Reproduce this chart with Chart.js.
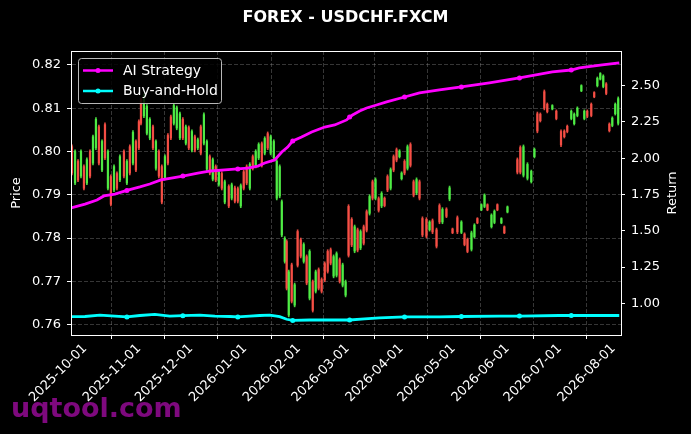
<!DOCTYPE html>
<html>
<head>
<meta charset="utf-8">
<script src="https://cdn.jsdelivr.net/npm/chart.js@4.4.1/dist/chart.umd.min.js"></script>
<style>
  html, body { margin: 0; padding: 0; background: #000; }
  canvas { display: block; }
</style>
</head>
<body>
<canvas id="c" width="691" height="434"></canvas>
<script>
// ---------- DATA ----------
// x values are days since 2025-10-01
const monthDays   = [0, 31, 61, 92, 123, 151, 182, 212, 243, 273, 304];
const monthLabels = ['2025-10-01','2025-11-01','2025-12-01','2026-01-01','2026-02-01','2026-03-01',
                     '2026-04-01','2026-05-01','2026-06-01','2026-07-01','2026-08-01'];
const priceTicks  = [0.76, 0.77, 0.78, 0.79, 0.80, 0.81, 0.82];
const returnTicks = [1.00, 1.25, 1.50, 1.75, 2.00, 2.25, 2.50];

const candleDays = [-7.5,-5.7,-4.0,-2.3,-0.6,1.1,2.9,4.6,6.3,8.0,9.8,11.5,13.2,14.9,16.7,18.4,20.1,22.4,24.1,25.8,
  27.6,29.3,31.0,32.2,33.9,35.6,37.3,39.1,40.8,42.5,44.2,46.0,47.7,49.4,51.1,52.8,54.6,56.3,58.0,59.7,
  61.5,63.2,64.9,66.6,68.4,70.1,71.8,73.5,75.2,77.0,78.7,80.4,82.7,84.4,86.2,87.9,89.6,91.3,93.0,94.8,
  96.5,98.2,99.9,101.7,103.4,105.1,106.8,108.6,110.3,112.0,113.2,114.9,116.0,117.2,118.9,120.6,122.3,124.1,125.8,127.5,
  129.2,131.0,132.7,134.4,136.1,137.9,139.6,141.3,143.0,144.7,146.5,148.2,149.9,151.6,153.4,155.1,156.8,158.5,160.3,162.0,
  163.7,165.4,167.1,168.9,170.6,172.3,174.0,175.8,177.5,179.2,180.9,182.1,183.8,185.5,187.2,189.0,190.7,192.4,194.1,196.4,
  198.2,199.9,202.2,203.9,205.6,207.9,209.7,211.4,214.2,216.5,218.3,220.0,222.3,224.0,225.7,228.0,229.8,231.5,233.8,235.5,
  237.2,239.5,241.2,243.0,248.7,250.4,252.2,254.5,256.7,258.5,260.2,261.9,264.2,265.9,268.8,271.1,273.8,275.7,277.4,279.7,
  281.4,283.2,285.5,287.2,288.9,291.2,292.9,294.7,296.4,298.1,299.8,301.6,303.3,305.0,306.7];
const candleOpen = [.8011,.7927,.7977,.7943,.7965,.7927,.8000,.7973,.8008,.8057,.7957,.8062,.7915,.7942,.7911,.7949,.7934,.8000,.7927,.8011,
  .7973,.8023,.8069,.8120,.8082,.8042,.8031,.8057,.7961,.8000,.7965,.7938,.8037,.8080,.8065,.8054,.8031,.8074,.8019,.8055,
  .8003,.8034,.8008,.8057,.8019,.7959,.7988,.7936,.7965,.7924,.7949,.7883,.7919,.7892,.7916,.7914,.7874,.7953,.7965,.7915,
  .7988,.7966,.7985,.8018,.7996,.8041,.7996,.7985,.7892,.7897,.7807,.7746,.7792,.7622,.7738,.7645,.7815,.7796,.7746,.7757,
  .7661,.7699,.7677,.7727,.7704,.7741,.7769,.7773,.7712,.7714,.7750,.7691,.7668,.7873,.7843,.7770,.7819,.7777,.7826,.7861,
  .7857,.7930,.7892,.7891,.7874,.7892,.7942,.7915,.7988,.8004,.7988,.7937,.7977,.7961,.8016,.7930,.7904,.7930,.7845,.7843,
  .7819,.7840,.7819,.7875,.7837,.7867,.7890,.7821,.7847,.7813,.7809,.7797,.7774,.7803,.7845,.7865,.7873,.7877,.7826,.7836,
  .7877,.7835,.7826,.7860,.7981,.8009,.7945,.7938,.7930,.7988,.8087,.8086,.8138,.8109,.8098,.8093,.8046,.8047,.8058,.8076,
  .8064,.8083,.8140,.8076,.8093,.8109,.8136,.8152,.8167,.8150,.8156,.8063,.8060,.8087,.8065];
const candleHigh = [.8015,.8004,.7981,.8004,.7969,.7985,.8004,.8038,.8078,.8061,.8027,.8066,.8004,.7946,.7969,.7953,.7992,.8004,.7981,.8015,
  .8048,.8027,.8073,.8124,.8133,.8108,.8078,.8061,.8027,.8004,.7969,.7992,.8041,.8084,.8110,.8105,.8091,.8078,.8061,.8059,
  .8050,.8038,.8031,.8061,.8089,.8027,.7992,.7985,.7969,.7957,.7953,.7934,.7923,.7927,.7920,.7918,.7925,.7957,.7969,.7974,
  .7992,.8004,.8020,.8022,.8034,.8045,.8038,.8027,.7981,.7969,.7888,.7803,.7796,.7726,.7742,.7696,.7819,.7800,.7789,.7761,
  .7773,.7703,.7726,.7731,.7708,.7745,.7773,.7777,.7761,.7768,.7754,.7742,.7703,.7877,.7847,.7830,.7823,.7819,.7830,.7865,
  .7900,.7934,.7939,.7895,.7907,.7895,.7946,.7962,.7992,.8008,.8004,.7953,.7981,.8015,.8020,.7934,.7939,.7934,.7849,.7847,
  .7840,.7844,.7823,.7879,.7870,.7870,.7920,.7823,.7851,.7840,.7812,.7800,.7816,.7833,.7847,.7879,.7902,.7879,.7856,.7865,
  .7879,.7847,.7828,.7874,.7985,.8013,.8015,.7974,.7957,.8008,.8091,.8089,.8142,.8112,.8108,.8096,.8050,.8050,.8061,.8096,
  .8089,.8103,.8154,.8096,.8096,.8112,.8138,.8172,.8182,.8177,.8159,.8066,.8080,.8112,.8126];
const candleLow = [.7946,.7923,.7930,.7939,.7911,.7923,.7939,.7969,.8004,.7969,.7953,.7981,.7911,.7874,.7907,.7911,.7930,.7939,.7923,.7946,
  .7969,.7953,.8004,.8061,.8078,.8038,.8027,.8004,.7957,.7939,.7879,.7934,.7969,.8027,.8061,.8050,.8027,.8027,.8015,.8004,
  .7999,.7999,.8004,.7992,.8015,.7955,.7946,.7932,.7930,.7920,.7911,.7879,.7870,.7888,.7881,.7881,.7870,.7911,.7923,.7911,
  .7957,.7962,.7981,.7964,.7992,.8004,.7992,.7981,.7888,.7893,.7803,.7742,.7680,.7618,.7650,.7641,.7733,.7754,.7742,.7692,
  .7657,.7629,.7673,.7680,.7673,.7699,.7719,.7738,.7708,.7710,.7696,.7687,.7664,.7756,.7780,.7766,.7768,.7773,.7784,.7814,
  .7853,.7888,.7888,.7860,.7870,.7872,.7907,.7911,.7953,.7976,.7985,.7934,.7946,.7957,.7964,.7895,.7900,.7888,.7803,.7800,
  .7816,.7810,.7777,.7833,.7833,.7847,.7886,.7810,.7810,.7810,.7782,.7766,.7770,.7800,.7833,.7863,.7870,.7863,.7823,.7833,
  .7863,.7833,.7810,.7858,.7948,.7948,.7941,.7934,.7927,.7985,.8043,.8068,.8096,.8089,.8096,.8073,.8011,.8031,.8043,.8073,
  .8061,.8080,.8138,.8073,.8078,.8080,.8124,.8149,.8165,.8147,.8131,.8045,.8057,.8084,.8061];
const candleClose = [.7950,.8000,.7934,.8000,.7915,.7981,.7943,.8034,.8074,.7973,.8023,.7985,.8000,.7878,.7965,.7915,.7988,.7943,.7977,.7950,
  .8044,.7957,.8008,.8065,.8129,.8104,.8074,.8008,.8023,.7943,.7883,.7988,.7973,.8031,.8106,.8101,.8087,.8031,.8057,.8008,
  .8046,.8003,.8027,.7996,.8085,.8023,.7950,.7981,.7934,.7953,.7915,.7930,.7874,.7923,.7885,.7885,.7921,.7915,.7927,.7970,
  .7961,.8000,.8016,.7968,.8030,.8008,.8034,.8023,.7977,.7965,.7884,.7799,.7684,.7722,.7654,.7692,.7737,.7758,.7785,.7696,
  .7769,.7633,.7722,.7684,.7677,.7703,.7723,.7742,.7757,.7764,.7700,.7738,.7699,.7760,.7784,.7826,.7772,.7815,.7788,.7818,
  .7896,.7892,.7935,.7864,.7903,.7875,.7911,.7958,.7957,.7980,.8001,.7950,.7950,.8011,.7968,.7899,.7935,.7892,.7807,.7804,
  .7837,.7814,.7781,.7837,.7866,.7850,.7916,.7812,.7814,.7837,.7785,.7769,.7812,.7830,.7835,.7877,.7899,.7865,.7853,.7862,
  .7865,.7845,.7812,.7872,.7952,.7952,.8011,.7970,.7954,.8005,.8047,.8071,.8100,.8092,.8106,.8076,.8015,.8034,.8046,.8093,
  .8086,.8100,.8152,.8093,.8081,.8083,.8126,.8169,.8180,.8174,.8134,.8048,.8077,.8109,.8122];

const aiDays   = [-8.0,0,6.9,10.9,17.2,24.1,31.6,37.3,43.7,50.5,56.3,64.9,72.4,80.4,87.9,93.6,99.4,103.4,109.1,113.2,
  116.6,119.5,124.6,130.4,137.9,143.6,150.5,152.2,153.9,158.0,162.0,167.7,173.5,183.8,192.4,203.9,216.5,232.6,249.9,268.8,
  279.7,284.3,297.5,307.3];
const aiReturn = [1.657,1.684,1.712,1.740,1.753,1.778,1.802,1.822,1.850,1.864,1.877,1.898,1.912,1.919,1.926,1.932,1.946,1.967,1.988,2.043,
  2.077,2.119,2.146,2.181,2.215,2.229,2.264,2.284,2.298,2.326,2.346,2.367,2.388,2.422,2.450,2.471,2.491,2.519,2.553,2.595,
  2.608,2.622,2.643,2.657];
const bhDays   = [-8.0,0,8.6,17.2,24.1,31.6,40.2,48.8,56.3,66.1,74.7,83.3,87.9,94.8,100.5,106.3,112.0,116.0,119.5,129.2,
  140.7,152.2,160.8,169.4,183.8,203.9,216.5,238.4,249.9,272.8,279.7,290.1,307.3];
const bhReturn = [0.908,0.909,0.919,0.912,0.906,0.916,0.923,0.912,0.915,0.919,0.912,0.909,0.906,0.912,0.916,0.919,0.908,0.890,0.882,0.885,
  0.885,0.885,0.892,0.899,0.906,0.906,0.909,0.912,0.912,0.916,0.916,0.916,0.916];
const markerDays = [24.1,56.3,87.9,119.5,152.2,183.8,216.5,249.9,279.7];

// ---------- STYLE ----------
const UP = 'rgba(80,240,70,0.9)';
const DOWN = 'rgba(250,80,70,0.9)';
const GRID = 'rgba(150,150,150,0.45)';
Chart.defaults.font.family = "'DejaVu Sans', sans-serif";
Chart.defaults.color = '#fff';

const candleColor = (c) => candleClose[c.dataIndex] >= candleOpen[c.dataIndex] ? UP : DOWN;

const deco = {
  id: 'deco',
  beforeDraw(chart) {
    const ctx = chart.ctx;
    ctx.save();
    ctx.fillStyle = '#000';
    ctx.fillRect(0, 0, chart.width, chart.height);
    ctx.restore();
  },
  afterDraw(chart) {
    const ctx = chart.ctx, a = chart.chartArea;
    ctx.save();
    // frame
    ctx.strokeStyle = '#fff';
    ctx.lineWidth = 1;
    ctx.strokeRect(Math.round(a.left) + 0.5, Math.round(a.top) + 0.5,
                   Math.round(a.right - a.left), Math.round(a.bottom - a.top));
    // right axis title
    ctx.fillStyle = '#fff';
    ctx.font = "13px 'DejaVu Sans'";
    ctx.textAlign = 'center';
    ctx.textBaseline = 'middle';
    ctx.translate(673, (a.top + a.bottom) / 2);
    ctx.rotate(-Math.PI / 2);
    ctx.fillText('Return', 0, 0);
    ctx.restore();

    // legend
    ctx.save();
    const lx = 78.5, ly = 58.5, lw = 143, lh = 45;
    ctx.beginPath();
    ctx.roundRect(lx, ly, lw, lh, 3);
    ctx.fillStyle = 'rgba(0,0,0,0.85)';
    ctx.fill();
    ctx.strokeStyle = 'rgba(204,204,204,0.9)';
    ctx.lineWidth = 1;
    ctx.stroke();
    const items = chart.data.datasets.filter(d => d.type === 'line');
    items.forEach((d, i) => {
      const y = 70.5 + i * 20.5;
      ctx.strokeStyle = d.borderColor;
      ctx.lineWidth = 2.5;
      ctx.beginPath();
      ctx.moveTo(83, y); ctx.lineTo(113, y);
      ctx.stroke();
      ctx.fillStyle = d.borderColor;
      ctx.beginPath();
      ctx.arc(98, y, 2.5, 0, Math.PI * 2);
      ctx.fill();
      ctx.fillStyle = '#fff';
      ctx.font = "14px 'DejaVu Sans'";
      ctx.textAlign = 'left';
      ctx.textBaseline = 'middle';
      ctx.fillText(d.label, 123, y + 0.5);
    });
    ctx.restore();

    // watermark
    ctx.save();
    ctx.font = "bold 27px 'DejaVu Sans'";
    ctx.fillStyle = 'rgba(140,10,140,0.9)';
    ctx.textAlign = 'left';
    ctx.textBaseline = 'alphabetic';
    ctx.fillText('uqtool.com', 11, 417);
    ctx.restore();
  }
};

const axisFont = { size: 13 };

new Chart(document.getElementById('c'), {
  type: 'bar',
  data: {
    datasets: [
      {
        type: 'line', label: 'AI Strategy', yAxisID: 'y1', order: 0,
        data: aiDays.map((d, i) => ({ x: d, y: aiReturn[i] })),
        borderColor: '#ff00ff', backgroundColor: '#ff00ff', borderWidth: 2.8,
        pointRadius: c => markerDays.includes(c.raw.x) ? 2.5 : 0, pointBorderWidth: 0, tension: 0
      },
      {
        type: 'line', label: 'Buy-and-Hold', yAxisID: 'y1', order: 0,
        data: bhDays.map((d, i) => ({ x: d, y: bhReturn[i] })),
        borderColor: '#00ffff', backgroundColor: '#00ffff', borderWidth: 2.8,
        pointRadius: c => markerDays.includes(c.raw.x) ? 2.5 : 0, pointBorderWidth: 0, tension: 0
      },
      {
        type: 'bar', label: 'wick', yAxisID: 'y', order: 2, grouped: false,
        data: candleDays.map((d, i) => ({ x: d, y: [candleLow[i], candleHigh[i]] })),
        backgroundColor: candleColor, barThickness: 1, borderWidth: 0
      },
      {
        type: 'bar', label: 'body', yAxisID: 'y', order: 1, grouped: false,
        data: candleDays.map((d, i) => ({ x: d, y: [candleOpen[i], candleClose[i]] })),
        backgroundColor: candleColor, barThickness: 1.6, borderWidth: 0
      }
    ]
  },
  options: {
    responsive: false,
    animation: false,
    layout: { padding: 0 },
    plugins: {
      legend: { display: false },
      tooltip: { enabled: false },
      title: {
        display: true, text: 'FOREX - USDCHF.FXCM', color: '#fff',
        font: { size: 16, weight: 'bold' }, padding: { top: 8, bottom: 23.8 }
      }
    },
    scales: {
      x: {
        type: 'linear', min: -8.04, max: 308.3, offset: false,
        afterBuildTicks: s => { s.ticks = monthDays.map(v => ({ value: v })); },
        afterFit: s => { s.height = 99; },
        ticks: {
          autoSkip: false, minRotation: 45, maxRotation: 45, color: '#fff', font: axisFont, padding: 2,
          callback: v => { const i = monthDays.indexOf(v); return i >= 0 ? monthLabels[i] : ''; }
        },
        grid: { color: GRID, lineWidth: 0.8, tickColor: '#fff', tickWidth: 1, tickLength: 4 },
        border: { display: true, color: '#fff', width: 1, dash: [4, 2] }
      },
      y: {
        type: 'linear', position: 'left', min: 0.7576, max: 0.8232,
        afterBuildTicks: s => { s.ticks = priceTicks.map(v => ({ value: v })); },
        afterFit: s => { s.width = 71; },
        ticks: { color: '#fff', font: axisFont, padding: 6, callback: v => v.toFixed(2) },
        grid: { color: GRID, lineWidth: 0.8, tickColor: '#fff', tickWidth: 1, tickLength: 4 },
        border: { display: true, color: '#fff', width: 1, dash: [4, 2] },
        title: { display: true, text: 'Price', color: '#fff', font: axisFont, padding: { top: 9, bottom: 0 } }
      },
      y1: {
        type: 'linear', position: 'right', min: 0.7815, max: 2.739,
        afterBuildTicks: s => { s.ticks = returnTicks.map(v => ({ value: v })); },
        afterFit: s => { s.width = 70; },
        ticks: { color: '#fff', font: axisFont, padding: 6, callback: v => v.toFixed(2) },
        grid: { drawOnChartArea: false, color: GRID, tickColor: '#fff', tickWidth: 1, tickLength: 4 },
        border: { display: true, color: '#fff', width: 1 }
      }
    }
  },
  plugins: [deco]
});
</script>
</body>
</html>
